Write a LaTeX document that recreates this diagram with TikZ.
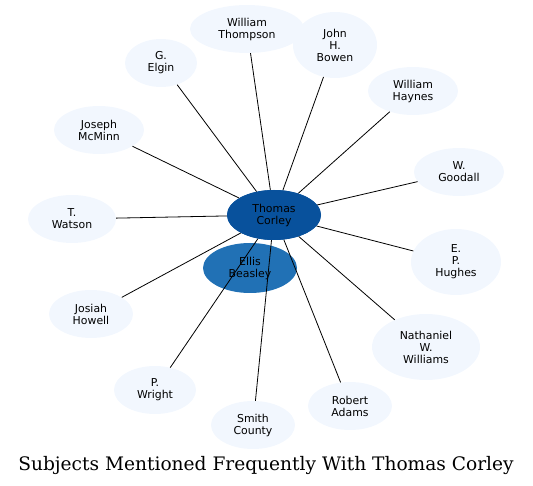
\documentclass[tikz,border=0pt]{standalone}
\usepackage{fontspec}
\setsansfont{DejaVu Sans}
\newfontfamily\titlefont{DejaVu Serif}
\usetikzlibrary{shapes.geometric}
\definecolor{pale}{RGB}{242,247,254}
\definecolor{hub}{RGB}{8,81,156}
\definecolor{mid}{RGB}{33,113,181}
\tikzset{
  person/.style={ellipse, fill=pale, draw=none, inner sep=0pt, align=center,
    font=\sffamily\fontsize{10.9}{12}\selectfont},
  link/.style={draw=black, line width=0.8pt}
}
\begin{document}
\begin{tikzpicture}[x=1pt,y=1pt,yscale=-1,xscale=1]
  \useasboundingbox (0,0) rectangle (533,486);
  %Ellipse: outer names
  \node [person, minimum width=114, minimum height=48] (thompson) at (247,29) {William\\Thompson};
  \node [person, minimum width=84, minimum height=66] (bowen) at (335,45) {John\\H.\\Bowen};
  \node [person, minimum width=72, minimum height=48] (elgin) at (161,63) {G.\\Elgin};
  \node [person, minimum width=90, minimum height=48] (haynes) at (413,91) {William\\Haynes};
  \node [person, minimum width=90, minimum height=48] (mcminn) at (99,130) {Joseph\\McMinn};
  \node [person, minimum width=90, minimum height=48] (goodall) at (459,172) {W.\\Goodall};
  \node [person, minimum width=88, minimum height=48] (watson) at (72,219) {T.\\Watson};
  \node [person, minimum width=90, minimum height=66] (hughes) at (456,262) {E.\\P.\\Hughes};
  \node [person, minimum width=84, minimum height=48] (howell) at (91,314) {Josiah\\Howell};
  \node [person, minimum width=108, minimum height=66] (williams) at (426,347) {Nathaniel\\W.\\Williams};
  \node [person, minimum width=82, minimum height=48] (wright) at (155,390) {P.\\Wright};
  \node [person, minimum width=84, minimum height=48] (adams) at (350,406) {Robert\\Adams};
  \node [person, minimum width=84, minimum height=48] (smith) at (253,425) {Smith\\County};
  %Ellipse: second subject
  \node [person, fill=mid, minimum width=94, minimum height=50] (beasley) at (250,268) {Ellis\\Beasley};
  %Ellipse: hub, placed before the links so they can end on it
  \path node [person, fill=hub, minimum width=94, minimum height=50] (corley) at (274,215) {};
  %Lines: hub to each name
  \foreach \who in {thompson,bowen,elgin,haynes,mcminn,goodall,watson,hughes,howell,williams,wright,adams,smith}
    \draw [link] (corley) -- (\who);
  %Ellipse: hub drawn again on top
  \node [person, fill=hub, minimum width=94, minimum height=50] at (corley.center) {Thomas\\Corley};
  %Text: title
  \node [font=\titlefont\fontsize{18.6}{21}\selectfont] (title) at (266,465) {Subjects Mentioned Frequently With Thomas Corley};
\end{tikzpicture}
\end{document}
